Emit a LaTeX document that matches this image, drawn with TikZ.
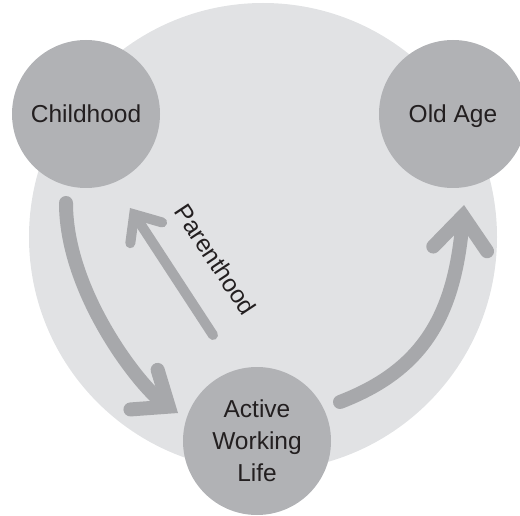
\documentclass[tikz,border=0pt]{standalone}
\usepackage{fontspec}
\setmainfont{Liberation Sans}
\usepackage{xcolor}
\definecolor{mylight}{RGB}{225,226,228}
\definecolor{mygray}{RGB}{177,178,181}
\definecolor{myarrow}{RGB}{167,168,171}
\definecolor{myink}{RGB}{35,31,32}
\usetikzlibrary{arrows.meta}

\begin{document}
\begin{tikzpicture}[x=1pt,y=1pt,line cap=round]
	\tikzstyle{stage}=[circle,fill=mygray,minimum size=148pt,inner sep=0pt,text=myink,align=center,text depth=0pt,font=\fontsize{24.5}{32}\selectfont];
	\tikzstyle{flow}=[draw=myarrow,line width=14pt];
	\useasboundingbox (0,0) rectangle (520,515);
	%%
	\coordinate (O) at (263,278);
	\coordinate (A) at (66,312);
	\coordinate (B) at (178,102);
	\coordinate (C) at (340,113);
	\coordinate (D) at (464,310);
	\coordinate (E) at (213,180);
	\coordinate (F) at (130,307);
	%%
	\fill[mylight] (O) circle[radius=234];
	%%
	\node[stage] (child) at (86,401)  {Childhood};
	\node[stage] (old)   at (453,401) {Old Age};
	\node[stage] (work)  at (257,74)  {Active\\Working\\Life};
	%%
	\draw[flow,-{Straight Barb[length=30pt,width=48pt,line cap=round,line join=miter]}]
		(A) to[out=-90,in=145.5,out distance=90pt,in distance=45pt] (B);
	\draw[flow,-{Straight Barb[length=33pt,width=54pt,line cap=round,line join=miter]}]
		(C) to[out=21,in=-95,out distance=90pt,in distance=110pt] (D);
	\draw[flow,line width=10pt,-{Straight Barb[length=22pt,width=38pt,line cap=round,line join=miter]}]
		(E) -- (F);
	%%
	\node[rotate=-56.5,text=myink,font=\fontsize{24.5}{32}\selectfont] (parent) at (215.5,255.5) {Parenthood};
\end{tikzpicture}
\end{document}
